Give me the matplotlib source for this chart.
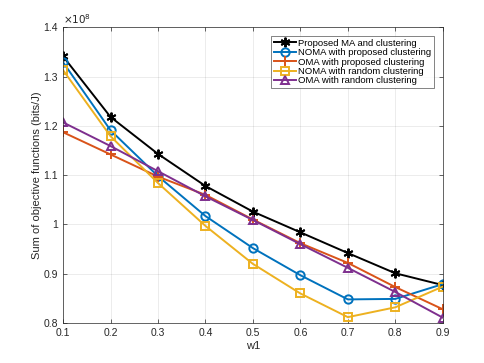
import matplotlib.pyplot as plt
from matplotlib.ticker import FuncFormatter

w1 = [0.1, 0.2, 0.3, 0.4, 0.5, 0.6, 0.7, 0.8, 0.9]

# objective values in units of 1e8 bits/J
proposed_ma = [1.341, 1.218, 1.143, 1.078, 1.026, 0.984, 0.942, 0.901, 0.877]
noma_proposed = [1.329, 1.191, 1.098, 1.017, 0.952, 0.897, 0.848, 0.849, 0.879]
oma_proposed = [1.187, 1.142, 1.097, 1.060, 1.010, 0.962, 0.922, 0.873, 0.828]
noma_random = [1.313, 1.179, 1.084, 0.997, 0.920, 0.860, 0.812, 0.832, 0.874]
oma_random = [1.207, 1.159, 1.108, 1.057, 1.009, 0.960, 0.912, 0.863, 0.811]

labels = [
    "Proposed MA and clustering",
    "NOMA with proposed clustering",
    "OMA with proposed clustering",
    "NOMA with random clustering",
    "OMA with random clustering",
]
colors = ["#000000", "#0072BD", "#D95319", "#EDB120", "#7E2F8E"]
markers = [(6, 2, 0), "o", "+", "s", "^"]
series = [proposed_ma, noma_proposed, oma_proposed, noma_random, oma_random]

plt.rcParams["font.family"] = ["Liberation Sans", "DejaVu Sans"]

fig = plt.figure(figsize=(4.85, 3.63), dpi=100)
ax = fig.add_axes([0.13, 0.11, 0.783, 0.815])

for ys, c, m, lab in zip(series, colors, markers, labels):
    face = c if m == (6, 2, 0) else "none"
    ms = 7 if m in ("+", (6, 2, 0)) else 6
    ax.plot(w1, ys, color=c, marker=m, markerfacecolor=face, markeredgecolor=c,
            markersize=ms, markeredgewidth=1.4, linewidth=1.4, label=lab)

ax.set_xlim(0.1, 0.9)
ax.set_ylim(0.8, 1.4)
ax.set_xticks(w1)
ax.set_yticks([0.8, 0.9, 1.0, 1.1, 1.2, 1.3, 1.4])
ax.yaxis.set_major_formatter(FuncFormatter(lambda v, p: "%g" % round(v, 2)))
ax.xaxis.set_major_formatter(FuncFormatter(lambda v, p: "%g" % round(v, 2)))
ax.tick_params(direction="in", top=True, right=True, labelsize=7.5,
               colors="#262626", length=3, width=0.5)
ax.grid(True, color="#262626", alpha=0.1, linewidth=0.6)
for s in ax.spines.values():
    s.set_color("#262626")
    s.set_linewidth(0.5)

ax.set_xlabel("w1", fontsize=8, color="#262626", labelpad=2)
ax.set_ylabel("Sum of objective functions (bits/J)", fontsize=8, color="#262626", labelpad=1)
ax.text(0.0, 1.005, r"$\times10^{8}$", transform=ax.transAxes, fontsize=7.5,
        color="#262626", ha="left", va="bottom")

leg = ax.legend(loc="upper right", fontsize=6.8, frameon=True, fancybox=False,
                edgecolor="#262626", borderpad=0.3, labelspacing=0.05,
                handlelength=2.3, handletextpad=0.3, borderaxespad=0.9)
leg.get_frame().set_linewidth(0.5)

fig.savefig("out.png", dpi=100)
